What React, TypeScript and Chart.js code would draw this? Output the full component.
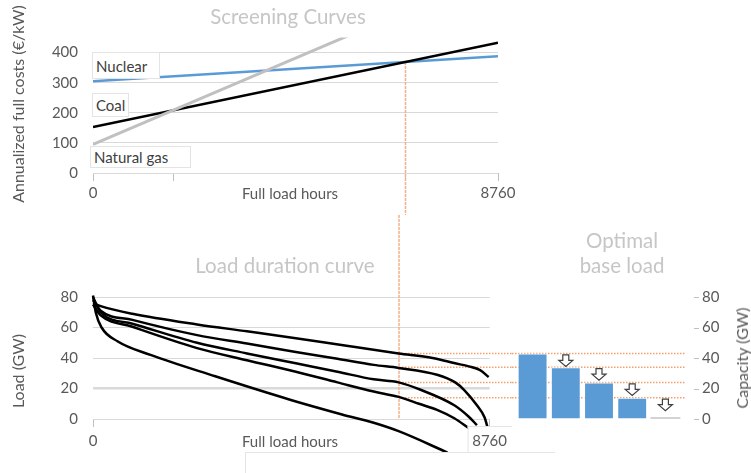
import React, { useEffect, useRef } from "react";
import { Chart, registerables } from "chart.js";

Chart.register(...registerables);

// ---------------- data ----------------
const hourRange = [0, 8760];
const nuclearCost = [305, 388];
const coalCost = [153, 433];
const gasCost = [95, 668];
const costTicks = [0, 100, 200, 300, 400];
const costMax = 450;

const curve1Hours = [0, 170, 870, 2300, 3400, 4480, 5600, 6750, 7500, 8000, 8300, 8550, 8740];
const curve1Load = [76, 74, 69, 62, 57.5, 53, 48, 43, 40, 36.5, 34.5, 32, 27.5];
const curve2Hours = [0, 170, 870, 2300, 3400, 4480, 5400, 6200, 6750, 7600, 8000, 8200, 8480, 8650, 8710];
const curve2Load = [78, 71, 65, 55, 49.5, 44, 39.5, 35.5, 33.5, 29, 24, 19, 9, 1, -5];
const curve3Hours = [0, 170, 870, 2300, 3400, 4480, 5400, 6200, 6750, 7250, 7980, 8300, 8480];
const curve3Load = [80, 70, 62.5, 50, 43, 36.5, 31, 26, 24, 19, 9, 1.5, -4];
const curve4Hours = [0, 170, 870, 2300, 3400, 4480, 5400, 6200, 6750, 7200, 7600, 7980, 8300];
const curve4Load = [75, 68, 60.5, 46.5, 38.5, 31, 24, 18, 14.5, 10, 6, 0.5, -6];
const curve5Hours = [0, 60, 190, 540, 1270, 2700, 4370, 5500, 6200, 6750, 7830];
const curve5Load = [81, 70, 60, 51, 42, 28, 12.5, 3, -2.5, -8, -22];
const loadTicks = [0, 20, 40, 60, 80];
const capacitySteps = ["1", "2", "3", "4", "5"];
const baseLoadCapacity = [43, 34, 24, 14, 0];

// ---------------- styling ----------------
const SPLIT_Y = 215;
const SPLIT_X = 512;
const FONT = "Lato, 'Open Sans', sans-serif";
const TICK_COLOR = "#595959";
const GRID_COLOR = "#d9d9d9";
const TICK_MARK_COLOR = "#bfbfbf";
const ORANGE_DOT = "#f2a06c";
const ORANGE_LIGHT = "#f4b08a";
const TITLE_COLOR = "#c6c6c6";

function crossing(a: number[], b: number[]) {
  const t = (b[0] - a[0]) / ((a[1] - a[0]) - (b[1] - b[0]));
  return {
    hours: hourRange[0] + t * (hourRange[1] - hourRange[0]),
    value: a[0] + t * (a[1] - a[0]),
  };
}
const gasCoal = crossing(gasCost, coalCost);
const coalNuclear = crossing(coalCost, nuclearCost);

const toPoints = (xs: number[], ys: number[]) => xs.map((x, i) => ({ x, y: ys[i] }));

const tickFont = { family: FONT, size: 15 };

function Txt({ x, y, children, size = 15, color = TICK_COLOR, rotate = false }: any) {
  return (
    <div
      style={{
        position: "absolute",
        left: x,
        top: y,
        transform: `translate(-50%, -50%)${rotate ? " rotate(-90deg)" : ""}`,
        fontSize: size,
        color,
        whiteSpace: "nowrap",
        lineHeight: 1,
        fontFamily: FONT,
      }}
    >
      {children}
    </div>
  );
}

function Box({ x, y, w, h, children }: any) {
  return (
    <div
      style={{
        position: "absolute",
        left: x,
        top: y,
        width: w,
        height: h,
        boxSizing: "border-box",
        background: "#fff",
        border: "1px solid #e4e4e4",
        display: "flex",
        alignItems: "center",
        paddingLeft: 3,
        fontSize: 15,
        color: "#404040",
        fontFamily: FONT,
        whiteSpace: "nowrap",
      }}
    >
      {children}
    </div>
  );
}

export default function App() {
  const refA = useRef<HTMLCanvasElement>(null);
  const refB = useRef<HTMLCanvasElement>(null);
  const refC = useRef<HTMLCanvasElement>(null);

  useEffect(() => {
    // ---------- Screening curves ----------
    const topPlugin = {
      id: "topCross",
      beforeDatasetsDraw(chart: any) {
        const { ctx, scales } = chart;
        const px = scales.x.getPixelForValue(coalNuclear.hours);
        const py = scales.y.getPixelForValue(coalNuclear.value);
        ctx.save();
        ctx.strokeStyle = ORANGE_LIGHT;
        ctx.lineWidth = 1.5;
        ctx.setLineDash([3, 1]);
        ctx.beginPath();
        ctx.moveTo(px, py);
        ctx.lineTo(px, chart.height);
        ctx.stroke();
        ctx.restore();
      },
    };
    const top = new Chart(refA.current as any, {
      type: "line",
      data: {
        datasets: [
          { label: "Natural gas", data: toPoints(hourRange, gasCost), borderColor: "#c0c0c0", borderWidth: 3 },
          { label: "Coal", data: toPoints(hourRange, coalCost), borderColor: "#000000", borderWidth: 2.5 },
          { label: "Nuclear", data: toPoints(hourRange, nuclearCost), borderColor: "#5b9bd5", borderWidth: 2.5 },
        ],
      },
      options: {
        responsive: false,
        animation: false,
        devicePixelRatio: 1,
        elements: { point: { radius: 0 }, line: { tension: 0 } },
        layout: { padding: { top: 37.5, right: 22, left: 0, bottom: 0 } },
        plugins: { legend: { display: false }, tooltip: { enabled: false }, title: { display: false } },
        scales: {
          x: {
            type: "linear",
            min: hourRange[0],
            max: hourRange[1],
            afterBuildTicks: (s: any) => {
              s.ticks = [hourRange[0], gasCoal.hours, coalNuclear.hours, hourRange[1]].map((v) => ({ value: v }));
            },
            afterFit: (s: any) => {
              s.height = 42;
            },
            grid: { drawOnChartArea: false, color: TICK_MARK_COLOR, tickLength: 8 },
            border: { display: false },
            ticks: {
              autoSkip: false,
              maxRotation: 0,
              padding: 3,
              font: tickFont,
              color: TICK_COLOR,
              callback: (v: any) => (v === hourRange[0] || v === hourRange[1] ? String(v) : ""),
            },
          },
          y: {
            min: 0,
            max: costMax,
            afterBuildTicks: (s: any) => {
              s.ticks = costTicks.map((v) => ({ value: v }));
            },
            afterFit: (s: any) => {
              s.width = 93;
            },
            grid: { color: GRID_COLOR, drawTicks: false },
            border: { display: false },
            ticks: { padding: 15, font: tickFont, color: TICK_COLOR },
          },
        },
      },
      plugins: [topPlugin],
    } as any);

    // ---------- Load duration curves ----------
    const curves = [
      toPoints(curve1Hours, curve1Load),
      toPoints(curve2Hours, curve2Load),
      toPoints(curve3Hours, curve3Load),
      toPoints(curve4Hours, curve4Load),
      toPoints(curve5Hours, curve5Load),
    ];
    const bottomPlugin = {
      id: "bottomLines",
      beforeDatasetsDraw(chart: any) {
        const { ctx, scales } = chart;
        const px = scales.x.getPixelForValue(coalNuclear.hours);
        ctx.save();
        ctx.strokeStyle = ORANGE_LIGHT;
        ctx.lineWidth = 1.5;
        ctx.setLineDash([3, 1]);
        ctx.beginPath();
        ctx.moveTo(px, 0);
        ctx.lineTo(px, scales.y.getPixelForValue(0));
        ctx.stroke();
        ctx.strokeStyle = ORANGE_DOT;
        ctx.setLineDash([1.5, 1.5]);
        baseLoadCapacity.filter((v) => v > 0).forEach((v) => {
          const py = scales.y.getPixelForValue(v);
          ctx.beginPath();
          ctx.moveTo(px, py);
          ctx.lineTo(chart.width, py);
          ctx.stroke();
        });
        ctx.restore();
      },
      afterDatasetsDraw(chart: any) {
        const { ctx, scales, chartArea } = chart;
        const px = scales.x.getPixelForValue(hourRange[1]);
        const y0 = chartArea.bottom + 7;
        ctx.save();
        ctx.fillStyle = "#ffffff";
        ctx.fillRect(px - 22, y0, 45, 26);
        ctx.strokeStyle = "#e4e4e4";
        ctx.lineWidth = 1;
        ctx.strokeRect(px - 21.5, y0 + 0.5, 45, 26);
        ctx.restore();
      },
    };
    const bottom = new Chart(refB.current as any, {
      type: "line",
      data: {
        datasets: curves.map((d, i) => ({
          label: "Load " + (i + 1),
          data: d,
          borderColor: "#000000",
          borderWidth: 2.5,
          cubicInterpolationMode: "monotone",
          clip: false,
        })),
      },
      options: {
        responsive: false,
        animation: false,
        devicePixelRatio: 1,
        elements: { point: { radius: 0 } },
        layout: { padding: { top: 82, right: SPLIT_X - 498, left: 0, bottom: 0 } },
        plugins: { legend: { display: false }, tooltip: { enabled: false } },
        scales: {
          x: {
            type: "linear",
            min: hourRange[0],
            max: hourRange[1],
            afterBuildTicks: (s: any) => {
              s.ticks = hourRange.map((v) => ({ value: v }));
            },
            afterFit: (s: any) => {
              s.height = 54;
            },
            grid: { drawOnChartArea: false, color: TICK_MARK_COLOR, tickLength: 8 },
            border: { display: false },
            ticks: {
              z: 1,
              autoSkip: false,
              maxRotation: 0,
              padding: 5,
              font: tickFont,
              color: TICK_COLOR,
              callback: (v: any) => String(v),
            },
          },
          y: {
            min: loadTicks[0],
            max: loadTicks[loadTicks.length - 1],
            afterBuildTicks: (s: any) => {
              s.ticks = loadTicks.map((v) => ({ value: v }));
            },
            afterFit: (s: any) => {
              s.width = 93;
            },
            grid: {
              color: GRID_COLOR,
              drawTicks: false,
              lineWidth: (c: any) => (c.tick && c.tick.value === 20 ? 2.5 : 1),
            },
            border: { display: false },
            ticks: { padding: 15, font: tickFont, color: TICK_COLOR },
          },
        },
      },
      plugins: [bottomPlugin],
    } as any);

    // ---------- Optimal base load bars ----------
    const barPlugin = {
      id: "barLines",
      beforeDatasetsDraw(chart: any) {
        const { ctx, scales, chartArea } = chart;
        ctx.save();
        ctx.strokeStyle = ORANGE_DOT;
        ctx.lineWidth = 1.5;
        ctx.setLineDash([1.5, 1.5]);
        baseLoadCapacity.filter((v) => v > 0).forEach((v) => {
          const py = scales.y.getPixelForValue(v);
          ctx.beginPath();
          ctx.moveTo(0, py);
          ctx.lineTo(chartArea.right + 4, py);
          ctx.stroke();
        });
        ctx.restore();
      },
      afterDatasetsDraw(chart: any) {
        const { ctx, scales, chartArea } = chart;
        ctx.save();
        // axis tick marks
        ctx.strokeStyle = TICK_MARK_COLOR;
        ctx.lineWidth = 1;
        scales.y.ticks.forEach((t: any) => {
          const py = Math.round(scales.y.getPixelForValue(t.value)) + 0.5;
          ctx.beginPath();
          ctx.moveTo(chartArea.right + 12, py);
          ctx.lineTo(chartArea.right + 17, py);
          ctx.stroke();
        });
        // arrows
        ctx.fillStyle = "#ffffff";
        ctx.strokeStyle = "#404040";
        ctx.lineWidth = 1.2;
        ctx.lineJoin = "miter";
        for (let i = 1; i < baseLoadCapacity.length; i++) {
          const cx = scales.x.getPixelForValue(i);
          const t = scales.y.getPixelForValue(baseLoadCapacity[i - 1]) + 1.5;
          const h = 11.5, hw = 7, sw = 3, sh = 5.5;
          ctx.beginPath();
          ctx.moveTo(cx - sw, t);
          ctx.lineTo(cx + sw, t);
          ctx.lineTo(cx + sw, t + sh);
          ctx.lineTo(cx + hw, t + sh);
          ctx.lineTo(cx, t + h);
          ctx.lineTo(cx - hw, t + sh);
          ctx.lineTo(cx - sw, t + sh);
          ctx.closePath();
          ctx.fill();
          ctx.stroke();
        }
        ctx.restore();
      },
    };
    const bars = new Chart(refC.current as any, {
      type: "bar",
      data: {
        labels: capacitySteps,
        datasets: [
          {
            label: "Capacity",
            data: baseLoadCapacity,
            backgroundColor: (c: any) => (c.raw > 0 ? "#5b9bd5" : "#a6a6a6"),
            borderColor: "rgba(255,255,255,0.85)",
            borderWidth: (c: any) => (c.raw > 0 ? 1 : 0),
            minBarLength: 1.5,
            barPercentage: 0.9,
            categoryPercentage: 1.0,
          },
        ],
      },
      options: {
        responsive: false,
        animation: false,
        devicePixelRatio: 1,
        layout: { padding: { top: 82, left: 4, bottom: 54, right: 0 } },
        plugins: { legend: { display: false }, tooltip: { enabled: false } },
        scales: {
          x: { type: "category", display: false },
          y: {
            position: "right",
            min: loadTicks[0],
            max: loadTicks[loadTicks.length - 1],
            afterBuildTicks: (s: any) => {
              s.ticks = loadTicks.map((v) => ({ value: v }));
            },
            afterFit: (s: any) => {
              s.width = 69;
            },
            grid: { drawOnChartArea: false, drawTicks: false },
            border: { display: false },
            ticks: { padding: 20, font: tickFont, color: TICK_COLOR },
          },
        },
      },
      plugins: [barPlugin],
    } as any);

    return () => {
      top.destroy();
      bottom.destroy();
      bars.destroy();
    };
  }, []);

  return (
    <div
      style={{
        position: "absolute",
        left: 0,
        top: 0,
        width: 751,
        height: 473,
        overflow: "hidden",
        background: "#ffffff",
        fontFamily: FONT,
      }}
    >
      <canvas ref={refA} width={520} height={SPLIT_Y} style={{ position: "absolute", left: 0, top: 0, width: 520, height: SPLIT_Y }} />
      <canvas ref={refB} width={SPLIT_X} height={473 - SPLIT_Y} style={{ position: "absolute", left: 0, top: SPLIT_Y, width: SPLIT_X, height: 473 - SPLIT_Y }} />
      <canvas ref={refC} width={751 - SPLIT_X} height={473 - SPLIT_Y} style={{ position: "absolute", left: SPLIT_X, top: SPLIT_Y, width: 751 - SPLIT_X, height: 473 - SPLIT_Y }} />

      <Txt x={288} y={16} size={20.5} color={TITLE_COLOR}>Screening Curves</Txt>
      <Txt x={18} y={104} size={16} rotate>Annualized full costs (€/kW)</Txt>
      <Box x={92} y={52} w={68} h={27}>Nuclear</Box>
      <Box x={92} y={93} w={37} h={24}>Coal</Box>
      <Box x={90} y={146} w={101} h={22}>Natural gas</Box>
      <Txt x={290} y={193}>Full load hours</Txt>

      <Txt x={285} y={265} size={20.5} color={TITLE_COLOR}>Load duration curve</Txt>
      <Txt x={622} y={240} size={20.5} color={TITLE_COLOR}>Optimal</Txt>
      <Txt x={622} y={265} size={20.5} color={TITLE_COLOR}>base load</Txt>
      <Txt x={18} y={371} size={16} rotate>Load (GW)</Txt>
      <Txt x={742} y={358} size={16} rotate>Capacity (GW)</Txt>
      <Txt x={290} y={441}>Full load hours</Txt>
      <div
        style={{
          position: "absolute",
          left: 245,
          top: 452,
          width: 309,
          height: 30,
          background: "#ffffff",
          borderLeft: "1px solid #e4e4e4",
          borderTop: "1px solid #e4e4e4",
        }}
      />
    </div>
  );
}
